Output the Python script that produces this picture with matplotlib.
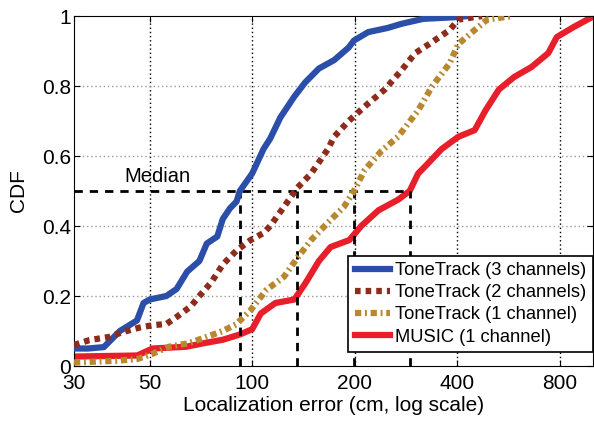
import numpy as np
import matplotlib
matplotlib.use("Agg")
import matplotlib.pyplot as plt
from matplotlib.ticker import FixedLocator, FixedFormatter, NullLocator

plt.rcParams['font.family'] = ['Liberation Sans', 'DejaVu Sans']

# CDF curves (x in cm, y = CDF)
tt3_x = [30, 33, 36.7, 40.9, 45.9, 48, 50, 56, 60, 64.5, 70, 73.6, 79, 82, 86, 90, 92,
         100, 108, 113, 121, 133, 143, 157, 174, 192, 199, 219, 250, 275, 318, 400, 430]
tt3_y = [0.05, 0.05, 0.054, 0.10, 0.13, 0.18, 0.19, 0.20, 0.22, 0.27, 0.30, 0.35, 0.37, 0.42, 0.45, 0.47, 0.50,
         0.55, 0.62, 0.65, 0.71, 0.77, 0.81, 0.85, 0.874, 0.91, 0.93, 0.954, 0.966, 0.978, 0.992, 0.997, 1.0]

tt2_x = [30, 33.3, 38, 41.7, 46.8, 51.4, 56, 60, 66, 70, 76, 82, 90, 99, 108, 113,
         124, 136, 149, 167, 174, 192, 219, 245, 275, 301, 331, 380, 403, 473]
tt2_y = [0.06, 0.074, 0.083, 0.097, 0.11, 0.117, 0.12, 0.14, 0.17, 0.20, 0.24, 0.29, 0.33, 0.36, 0.38, 0.40,
         0.455, 0.51, 0.55, 0.62, 0.655, 0.70, 0.75, 0.79, 0.846, 0.894, 0.92, 0.96, 0.99, 1.0]

tt1_x = [30, 40, 46, 51, 57, 65, 72, 82, 90, 99, 110, 124, 136, 149, 167, 186, 199,
         214, 240, 268, 307, 338, 380, 403, 450, 490, 580]
tt1_y = [0.01, 0.015, 0.02, 0.035, 0.055, 0.065, 0.08, 0.10, 0.12, 0.16, 0.217, 0.255, 0.31, 0.36, 0.41, 0.455, 0.50,
         0.56, 0.615, 0.655, 0.73, 0.80, 0.865, 0.92, 0.96, 0.99, 1.0]

music_x = [30, 46, 51, 64, 72, 82, 92, 100, 106, 117, 133, 143, 157, 170, 193, 209, 235, 268, 290,
           307, 318, 360, 403, 450, 484, 530, 588, 660, 740, 784, 880, 995]
music_y = [0.027, 0.03, 0.05, 0.055, 0.065, 0.075, 0.09, 0.105, 0.15, 0.18, 0.19, 0.235, 0.30, 0.34, 0.36, 0.40, 0.445, 0.475, 0.50,
           0.55, 0.565, 0.62, 0.655, 0.674, 0.73, 0.79, 0.826, 0.854, 0.894, 0.94, 0.969, 0.997]

labels = ["ToneTrack (3 channels)", "ToneTrack (2 channels)", "ToneTrack (1 channel)", "MUSIC (1 channel)"]
medians = [92, 135, 199, 290]

xticks = [30, 50, 100, 200, 400, 800]
yticks = [0, 0.2, 0.4, 0.6, 0.8, 1]
ytick_labels = ["0", "0.2", "0.4", "0.6", "0.8", "1"]

fig = plt.figure(figsize=(5.94, 4.22), dpi=100)
ax = fig.add_axes([0.1246, 0.1327, 0.8734, 0.8293])

ax.set_xscale('log')
ax.set_xlim(30, 1000)
ax.set_ylim(0, 1)

# grid: black dotted verticals, grey dotted horizontals
for xv in xticks[1:]:
    ax.axvline(xv, color='black', linestyle=(0, (1, 2)), linewidth=1.0, zorder=0)
for yv in yticks[1:-1]:
    ax.axhline(yv, color='#999999', linestyle=(0, (1, 2)), linewidth=1.0, zorder=0)

# median markers
ax.plot([30, medians[-1]], [0.5, 0.5], color='black', linestyle=(0, (3, 2.5)), linewidth=2.0, zorder=3)
for m in medians:
    ax.plot([m, m], [0, 0.5], color='black', linestyle=(0, (3, 2.5)), linewidth=2.0, zorder=3)
ax.text(52.6, 0.515, "Median", fontsize=14.5, ha='center', va='bottom')

ax.plot(tt3_x, tt3_y, color='#2B4FA8', linewidth=4.5, label=labels[0], zorder=4)
ax.plot(tt2_x, tt2_y, color='#8E2C1C', linewidth=4.5, linestyle=(0, (0.9, 0.8)), label=labels[1], zorder=4)
ax.plot(tt1_x, tt1_y, color='#B8872E', linewidth=4.5, linestyle=(0, (1.0, 0.6, 0.3, 0.6)), label=labels[2], zorder=4)
ax.plot(music_x, music_y, color='#E81E2A', linewidth=4.5, label=labels[3], zorder=2)

ax.xaxis.set_major_locator(FixedLocator(xticks))
ax.xaxis.set_major_formatter(FixedFormatter([str(v) for v in xticks]))
ax.xaxis.set_minor_locator(NullLocator())
ax.set_yticks(yticks)
ax.set_yticklabels(ytick_labels)
ax.tick_params(direction='in', labelsize=15, top=True, right=True, length=4, pad=2)
ax.tick_params(axis='x', pad=6)

ax.set_xlabel("Localization error (cm, log scale)", fontsize=15, labelpad=2)
ax.set_ylabel("CDF", fontsize=15, labelpad=10)

leg = ax.legend(loc='lower right', bbox_to_anchor=(1.0, 0.04), fontsize=13.2, handlelength=1.9,
                handletextpad=0.3, borderpad=0.35, labelspacing=0.28, fancybox=False, framealpha=1,
                edgecolor='black', borderaxespad=0)
leg.get_frame().set_linewidth(1.2)

fig.savefig("out.png", dpi=100)
